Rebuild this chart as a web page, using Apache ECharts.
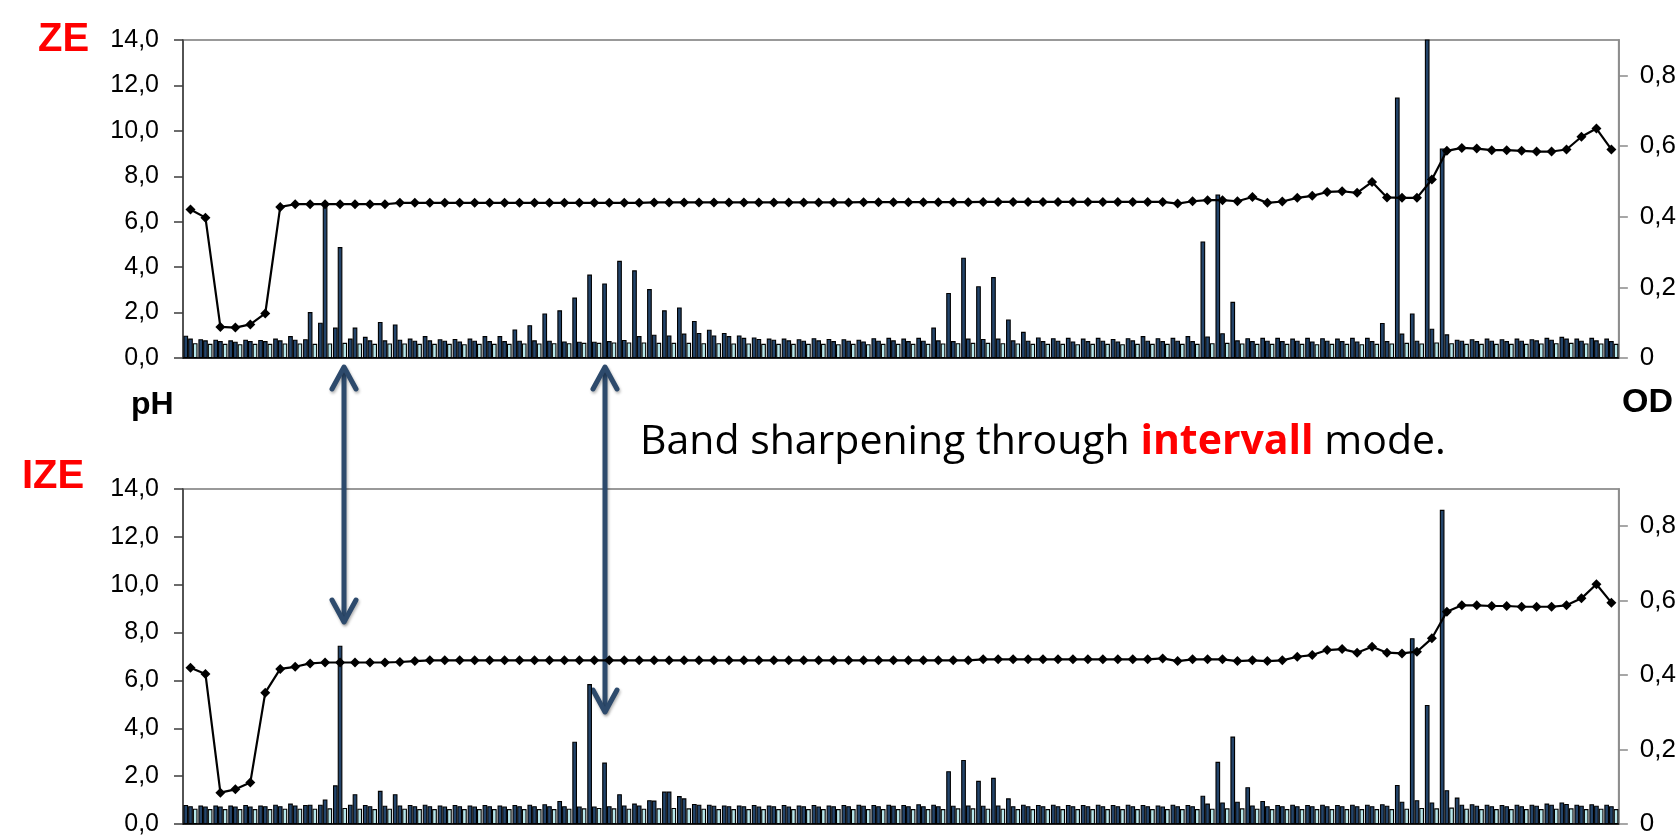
<!DOCTYPE html>
<html>
<head>
<meta charset="utf-8">
<script src="https://cdn.jsdelivr.net/npm/echarts@6/dist/echarts.min.js"></script>
<style>
  html, body { margin: 0; padding: 0; background: #fff; }
  #chart { width: 1679px; height: 839px; }
</style>
</head>
<body>
<div id="chart"></div>
<script>
// fractions 1..96
const fractions = Array.from({ length: 96 }, (_, i) => String(i + 1))

// pH (line, left axis)
const phZE = [6.54,6.18,1.37,1.34,1.48,1.96,6.65,6.77,6.77,6.77,
  6.77,6.77,6.77,6.77,6.83,6.83,6.83,6.83,6.83,6.83,
  6.83,6.83,6.83,6.83,6.83,6.83,6.83,6.83,6.83,6.83,
  6.83,6.85,6.85,6.85,6.85,6.85,6.85,6.85,6.85,6.85,
  6.85,6.85,6.85,6.85,6.85,6.86,6.86,6.86,6.86,6.86,
  6.86,6.86,6.86,6.87,6.87,6.87,6.87,6.87,6.87,6.87,
  6.87,6.87,6.87,6.87,6.87,6.87,6.80,6.90,6.95,6.95,
  6.90,7.09,6.83,6.89,7.05,7.14,7.31,7.34,7.27,7.75,
  7.07,7.05,7.05,7.86,9.12,9.25,9.22,9.15,9.15,9.12,
  9.09,9.09,9.18,9.74,10.10,9.18]
const phIZE = [6.53,6.27,1.31,1.45,1.73,5.49,6.48,6.57,6.71,6.75,
  6.75,6.75,6.75,6.75,6.77,6.81,6.84,6.84,6.84,6.84,
  6.84,6.84,6.84,6.84,6.84,6.84,6.84,6.84,6.84,6.84,
  6.84,6.84,6.84,6.84,6.84,6.84,6.84,6.84,6.84,6.84,
  6.84,6.84,6.84,6.84,6.84,6.84,6.84,6.84,6.84,6.84,
  6.84,6.84,6.84,6.88,6.88,6.88,6.88,6.88,6.88,6.88,
  6.88,6.88,6.88,6.88,6.88,6.92,6.81,6.88,6.88,6.88,
  6.81,6.84,6.81,6.84,6.99,7.06,7.27,7.31,7.16,7.41,
  7.16,7.13,7.20,7.76,8.87,9.14,9.14,9.11,9.11,9.08,
  9.08,9.08,9.14,9.43,10.02,9.25]

// OD (bars, right axis) - three bars per fraction
const odZE_a = [0.063,0.053,0.052,0.050,0.052,0.051,0.055,0.062,0.053,0.100,
  0.086,0.055,0.060,0.102,0.095,0.055,0.062,0.053,0.054,0.055,
  0.062,0.062,0.081,0.093,0.126,0.135,0.171,0.236,0.211,0.275,
  0.248,0.195,0.135,0.143,0.105,0.080,0.071,0.064,0.058,0.055,
  0.055,0.053,0.056,0.054,0.053,0.052,0.056,0.057,0.055,0.057,
  0.086,0.184,0.284,0.203,0.229,0.109,0.074,0.058,0.056,0.057,
  0.055,0.057,0.054,0.056,0.062,0.056,0.057,0.062,0.330,0.463,
  0.159,0.056,0.057,0.057,0.055,0.057,0.056,0.055,0.057,0.057,
  0.099,0.737,0.126,1.000,0.593,0.052,0.053,0.055,0.053,0.055,
  0.053,0.057,0.060,0.055,0.057,0.055]
const odZE_b = [0.055,0.050,0.048,0.046,0.048,0.048,0.050,0.052,0.130,0.437,
  0.314,0.086,0.050,0.050,0.052,0.049,0.050,0.049,0.047,0.049,
  0.048,0.048,0.049,0.050,0.049,0.047,0.046,0.046,0.048,0.051,
  0.062,0.066,0.064,0.069,0.071,0.064,0.062,0.057,0.054,0.052,
  0.050,0.049,0.050,0.048,0.049,0.047,0.049,0.050,0.048,0.049,
  0.050,0.048,0.055,0.054,0.055,0.050,0.049,0.048,0.049,0.047,
  0.048,0.049,0.047,0.050,0.049,0.048,0.049,0.048,0.061,0.070,
  0.050,0.048,0.049,0.048,0.049,0.047,0.049,0.048,0.047,0.048,
  0.048,0.069,0.049,0.083,0.067,0.049,0.048,0.049,0.048,0.049,
  0.050,0.052,0.055,0.049,0.050,0.048]
const odZE_c = [0.042,0.040,0.040,0.039,0.040,0.040,0.041,0.041,0.040,0.041,
  0.043,0.041,0.040,0.041,0.041,0.040,0.040,0.040,0.039,0.040,
  0.040,0.040,0.041,0.041,0.042,0.042,0.043,0.043,0.044,0.044,
  0.044,0.043,0.043,0.043,0.042,0.042,0.041,0.041,0.040,0.040,
  0.040,0.040,0.040,0.039,0.040,0.039,0.040,0.040,0.040,0.040,
  0.041,0.042,0.043,0.043,0.042,0.041,0.040,0.040,0.040,0.039,
  0.040,0.040,0.039,0.040,0.040,0.040,0.040,0.040,0.042,0.043,
  0.041,0.040,0.040,0.040,0.040,0.039,0.040,0.040,0.039,0.040,
  0.041,0.043,0.041,0.044,0.042,0.040,0.040,0.040,0.040,0.040,
  0.041,0.042,0.043,0.041,0.041,0.040]
const odIZE_a = [0.051,0.050,0.050,0.050,0.051,0.050,0.052,0.055,0.051,0.052,
  0.104,0.052,0.051,0.089,0.080,0.051,0.052,0.050,0.051,0.050,
  0.051,0.050,0.051,0.052,0.053,0.062,0.221,0.376,0.165,0.080,
  0.055,0.064,0.087,0.075,0.054,0.052,0.050,0.050,0.051,0.050,
  0.051,0.050,0.051,0.050,0.051,0.052,0.051,0.052,0.051,0.053,
  0.052,0.142,0.172,0.116,0.124,0.069,0.052,0.051,0.052,0.051,
  0.051,0.052,0.051,0.052,0.051,0.050,0.052,0.051,0.076,0.167,
  0.235,0.099,0.062,0.051,0.052,0.051,0.052,0.051,0.052,0.052,
  0.053,0.105,0.499,0.320,0.844,0.071,0.053,0.052,0.051,0.052,
  0.052,0.055,0.058,0.052,0.053,0.052]
const odIZE_b = [0.048,0.047,0.047,0.047,0.047,0.048,0.048,0.050,0.052,0.066,
  0.479,0.080,0.048,0.049,0.050,0.048,0.048,0.047,0.048,0.047,
  0.048,0.047,0.048,0.048,0.048,0.048,0.047,0.047,0.048,0.050,
  0.050,0.063,0.087,0.069,0.052,0.049,0.048,0.048,0.047,0.048,
  0.047,0.048,0.047,0.048,0.048,0.049,0.048,0.049,0.048,0.048,
  0.048,0.049,0.050,0.049,0.050,0.048,0.048,0.048,0.048,0.048,
  0.048,0.048,0.048,0.048,0.048,0.047,0.048,0.048,0.055,0.058,
  0.060,0.050,0.048,0.048,0.048,0.048,0.048,0.048,0.048,0.048,
  0.049,0.060,0.064,0.058,0.091,0.052,0.049,0.048,0.048,0.048,
  0.049,0.052,0.054,0.049,0.049,0.048]
const odIZE_c = [0.041,0.040,0.040,0.040,0.040,0.040,0.041,0.041,0.041,0.042,
  0.043,0.041,0.040,0.041,0.041,0.040,0.040,0.040,0.040,0.040,
  0.040,0.040,0.040,0.040,0.040,0.041,0.042,0.043,0.042,0.041,
  0.041,0.042,0.043,0.042,0.041,0.040,0.040,0.040,0.040,0.040,
  0.040,0.040,0.040,0.040,0.040,0.040,0.040,0.040,0.040,0.040,
  0.040,0.042,0.042,0.041,0.041,0.040,0.040,0.040,0.040,0.040,
  0.040,0.040,0.040,0.040,0.040,0.040,0.040,0.040,0.041,0.042,
  0.042,0.041,0.040,0.040,0.040,0.040,0.040,0.040,0.040,0.040,
  0.040,0.041,0.043,0.042,0.044,0.041,0.040,0.040,0.040,0.040,
  0.040,0.041,0.042,0.040,0.041,0.040]

// tick labels
const phTicks = [0, 2, 4, 6, 8, 10, 12, 14]
const odTicks = [0, 0.2, 0.4, 0.6, 0.8]

const labelFont = { fontFamily: 'Liberation Sans', fontSize: 25, color: '#000' }
const darkBar = '#23446a', lightBar = '#b6e6ea'
const arrowColor = '#2d4a6c'

const chart = echarts.init(document.getElementById('chart'))

// 坐标轴
function phAxis(gridIndex) {
  return {
    type: 'value', gridIndex, position: 'left', min: 0, max: 14, interval: 2,
    axisLine: { show: true, lineStyle: { color: '#3c3c3c', width: 1.5 } },
    axisTick: { show: true, length: 9, lineStyle: { color: '#3c3c3c', width: 1.5 } },
    axisLabel: Object.assign({ margin: 24, formatter: v => v.toFixed(1).replace('.', ',') }, labelFont),
    splitLine: { show: false }
  }
}
function odAxis(gridIndex) {
  return {
    type: 'value', gridIndex, position: 'right', min: 0, max: 0.9,
    axisLine: { show: true, lineStyle: { color: '#8a8a8a', width: 1.5 } },
    axisTick: { show: true, length: 9, customValues: odTicks, lineStyle: { color: '#8a8a8a', width: 1.5 } },
    axisLabel: Object.assign({
      margin: 21, customValues: odTicks,
      formatter: v => v === 0 ? '0' : String(Math.round(v * 10) / 10).replace('.', ',')
    }, labelFont, { fontSize: 26 }),
    splitLine: { show: false }
  }
}
function catAxis(gridIndex) {
  return {
    type: 'category', gridIndex, data: fractions, boundaryGap: true,
    axisLine: { show: true, lineStyle: { color: '#000', width: 1.5 } },
    axisTick: { show: false }, axisLabel: { show: false }
  }
}

function barSeries(data, xi, yi, color) {
  return {
    type: 'bar', data, xAxisIndex: xi, yAxisIndex: yi, barWidth: 4.7, barGap: '0%',
    itemStyle: { color, borderColor: '#000', borderWidth: 1.1 },
    animation: false
  }
}
function lineSeries(data, xi, yi) {
  return {
    type: 'line', data, xAxisIndex: xi, yAxisIndex: yi, z: 5,
    symbol: 'diamond', symbolSize: 10, showSymbol: true, showAllSymbol: true,
    lineStyle: { color: '#000', width: 2.2 },
    itemStyle: { color: '#000' },
    animation: false
  }
}

// 双向箭头
function arrow(x, y1, y2) {
  const h = 22, w = 12
  return {
    type: 'group', z: 100,
    children: [
      { type: 'line', shape: { x1: x, y1: y1 + 2, x2: x, y2: y2 - 2 } },
      { type: 'polyline', shape: { points: [[x - w, y1 + h], [x, y1], [x + w, y1 + h]] } },
      { type: 'polyline', shape: { points: [[x - w, y2 - h], [x, y2], [x + w, y2 - h]] } }
    ].map(c => Object.assign(c, {
      style: { stroke: arrowColor, lineWidth: 5, fill: null, lineCap: 'round', lineJoin: 'round',
        shadowColor: 'rgba(0,0,0,0.3)', shadowBlur: 3, shadowOffsetX: 1, shadowOffsetY: 2 }
    }))
  }
}

function label(text, x, y, size, color, align) {
  return {
    type: 'text', x, y, z: 100,
    style: { text, fill: color, font: `bold ${size}px "Liberation Sans"`, textAlign: align || 'left', textVerticalAlign: 'middle' }
  }
}

chart.setOption({
  backgroundColor: '#fff',
  animation: false,
  grid: [
    { left: 183, right: 58, top: 40, height: 318, show: true, borderColor: '#999', borderWidth: 2, containLabel: false },
    { left: 183, right: 54, top: 489, height: 335, show: true, borderColor: '#999', borderWidth: 2, containLabel: false }
  ],
  xAxis: [catAxis(0), catAxis(1)],
  yAxis: [phAxis(0), odAxis(0), phAxis(1), odAxis(1)],
  series: [
    barSeries(odZE_a, 0, 1, darkBar),
    barSeries(odZE_b, 0, 1, darkBar),
    barSeries(odZE_c, 0, 1, lightBar),
    lineSeries(phZE, 0, 0),
    barSeries(odIZE_a, 1, 3, darkBar),
    barSeries(odIZE_b, 1, 3, darkBar),
    barSeries(odIZE_c, 1, 3, lightBar),
    lineSeries(phIZE, 1, 2)
  ],
  graphic: [
    label('ZE', 38, 40, 40, '#ff0000'),
    label('IZE', 22, 477, 40, '#ff0000'),
    label('pH', 131, 405, 32, '#000'),
    label('OD', 1622, 403, 34, '#000'),
    {
      type: 'text', x: 640, y: 442, z: 100,
      style: {
        text: '{n|Band sharpening through }{b|intervall}{n| mode.}',
        textVerticalAlign: 'middle',
        rich: {
          n: { fontFamily: 'Open Sans', fontSize: 41, fill: '#000', color: '#000' },
          b: { fontFamily: 'Open Sans', fontSize: 41, fontWeight: 'bold', fill: '#ff0000', color: '#ff0000' }
        }
      }
    },
    arrow(344, 367, 622),
    arrow(605, 367, 712)
  ]
})
</script>
</body>
</html>
